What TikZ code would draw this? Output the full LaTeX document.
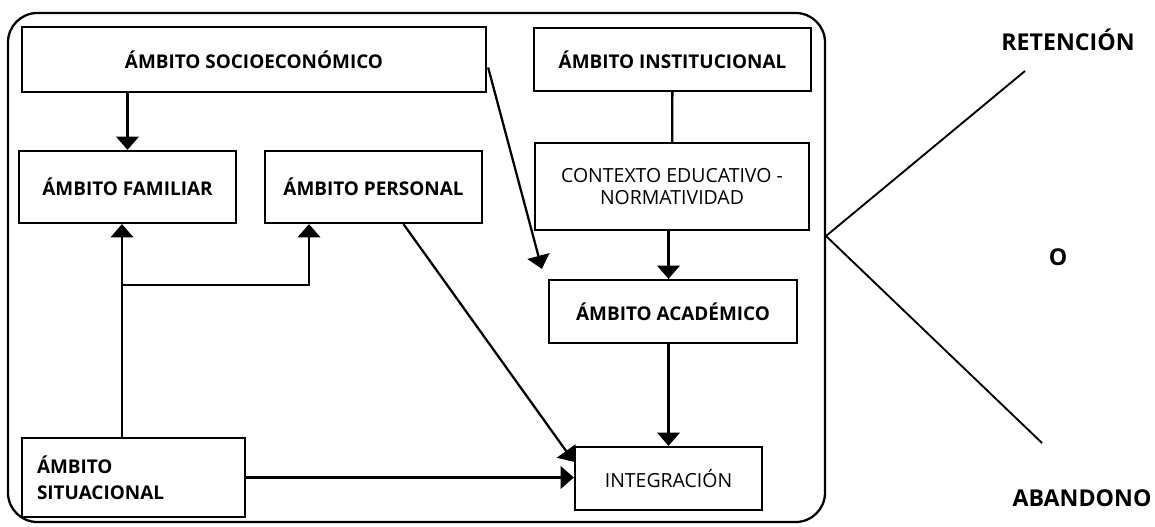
\documentclass[tikz,border=0pt]{standalone}
\usepackage{fontspec}
\setmainfont{Open Sans}
\usetikzlibrary{arrows.meta, calc}

\begin{document}
\begin{tikzpicture}[x = 0.75pt, y = -0.75pt, >={Triangle[width=17pt,length=10pt]}, line width = 1.7pt,
	ambito/.style = {draw, line width = 1.7pt, align = center, inner sep = 0pt, font = \fontsize{14.2}{16.5}\selectfont\bfseries},
	plano/.style = {ambito, font = \fontsize{14.6}{16.5}\selectfont},
	salida/.style = {font = \fontsize{17.4}{20}\selectfont\bfseries}]

	\useasboundingbox (0, 0) rectangle (1155, 527);

	% Outer frame

	\node [draw, rounded corners = 22pt, line width = 1.7pt, minimum width = 612.75pt, minimum height = 381.75pt] (marco) at (416.5, 267.5) {};

	% Left column

	\node [ambito, minimum width = 348pt, minimum height = 48.75pt] (socio) at (254, 59.5) {ÁMBITO SOCIOECONÓMICO};
	\node [ambito, minimum width = 162.75pt, minimum height = 54pt] (familiar) at (127.5, 187) {ÁMBITO FAMILIAR};
	\node [ambito, minimum width = 162.75pt, minimum height = 54pt] (personal) at (373.5, 187) {ÁMBITO PERSONAL};
	\node [ambito, align = left, text width = 144.75pt, inner xsep = 11.25pt, minimum height = 59.25pt, font = \fontsize{14.2}{19.5}\selectfont\bfseries] (situacional) at (133.5, 477.5) {ÁMBITO\\SITUACIONAL};

	% Right column

	\node [ambito, minimum width = 207.75pt, minimum height = 47.25pt] (institucional) at (672.5, 59.5) {ÁMBITO INSTITUCIONAL};
	\node [plano, minimum width = 205.5pt, minimum height = 65.25pt] (contexto) at (672, 186.5) {CONTEXTO EDUCATIVO -\\NORMATIVIDAD};
	\node [ambito, minimum width = 186pt, minimum height = 47.25pt] (academico) at (673, 311.5) {ÁMBITO ACADÉMICO};
	\node [plano, minimum width = 140.25pt, minimum height = 47.25pt] (integracion) at (668.5, 478.5) {INTEGRACIÓN};

	% Connectors

	\coordinate (cruce) at (122, 285);
	\coordinate (codo) at (309, 285);
	\draw [->] (socio.south -| familiar.north) -- (familiar.north);
	\draw [->] (situacional.north -| cruce) -- (familiar.south -| cruce);
	\draw [->] (cruce) -- (codo) -- (personal.south -| codo);
	\draw [->] ($(personal.south) + (30, 0)$) -- (integracion.170);
	\draw [->] (situacional.east) -- (situacional.east -| integracion.west);
	\draw [->] ($(socio.east) + (1, 8)$) -- ($(academico.north west) + (-6, -10)$);
	\draw (institucional) -- (contexto);
	\draw [->] (contexto.south -| integracion.north) -- (academico.north -| integracion.north);
	\draw [->] (academico.south -| integracion.north) -- (integracion.north);

	% Outcomes

	\node [salida] (retencion) at (1068, 40) {RETENCIÓN};
	\node [salida] (o) at (1058, 257) {O};
	\node [salida] (abandono) at (1082, 498) {ABANDONO};
	\coordinate (vertice) at (826, 236);
	\coordinate (fin retencion) at (1025, 71);
	\coordinate (fin abandono) at (1042, 443);
	\draw [line width = 1.4pt] (fin retencion) -- (vertice) -- (fin abandono);

\end{tikzpicture}
\end{document}
